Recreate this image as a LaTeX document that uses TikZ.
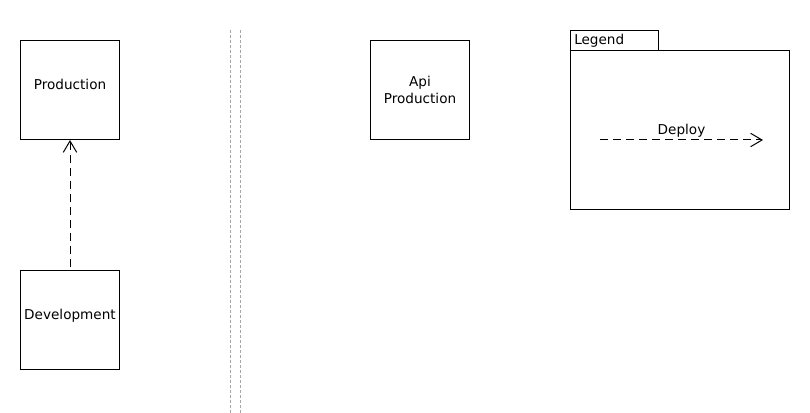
\documentclass[tikz,border=0pt]{standalone}
\usepackage{fontspec}
\setmainfont{DejaVu Sans}
\usetikzlibrary{arrows.meta}

\tikzset{
    env/.style={draw, line width=0.75pt, minimum width=74.25pt, minimum height=74.25pt, inner sep=0pt, align=center, font=\fontsize{10.2}{12.75}\selectfont},
    envhaut/.style={env, text depth=9pt},
    deploy/.style={line width=0.75pt, dash pattern=on 6pt off 3.75pt, -{Straight Barb[length=8.5pt,width=10pt]}}
}

\begin{document}
\begin{tikzpicture}[x=0.75pt, y=-0.75pt]
    % cadre de l'image
    \useasboundingbox (0,0) rectangle (810,413);

    % Environnements
    \node[envhaut] (prod) at (70,90) {Production};
    \node[envhaut] (dev) at (70,320) {Development};
    \node[env] (apiprod) at (420,90) {Api\\Production};

    % Deploiement dev -> prod
    \coordinate (devtop) at (70,267);
    \draw[deploy] (devtop) -- (prod.south);

    % Separateurs en pointilles
    \foreach \x in {230,240}{
        \draw[gray!70, line width=0.75pt, dash pattern=on 2.25pt off 1.5pt] (\x,30) -- (\x,413);
    }

    % ---- Legende ----
    \node[draw, line width=0.75pt, minimum width=66pt, minimum height=15pt, inner sep=0pt, anchor=north west] (legtab) at (570,30) {};
    \node[anchor=west, inner sep=0pt, font=\fontsize{10.2}{12.75}\selectfont] (legtxt) at (574,41) {Legend};
    \node[draw, line width=0.75pt, minimum width=164.25pt, minimum height=119.25pt, inner sep=0pt, anchor=north west] (legbox) at (570,50) {};
    \coordinate (legA) at (600,140);
    \coordinate (legB) at (763,140);
    \draw[deploy] (legA) -- node[above, inner sep=1.5pt, font=\fontsize{10.2}{12.75}\selectfont] (legdeploy) {Deploy} (legB);

\end{tikzpicture}
\end{document}
